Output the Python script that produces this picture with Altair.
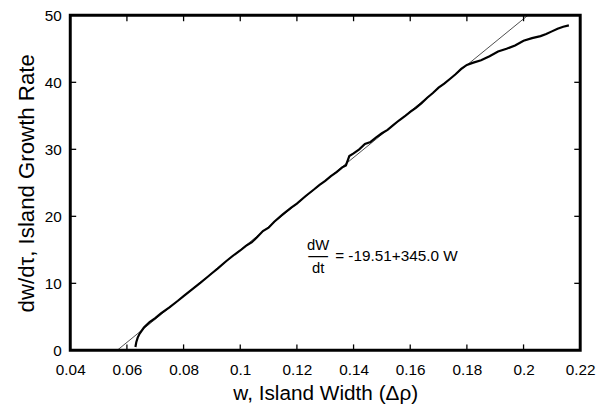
import altair as alt
import pandas as pd

# ---- data ----
w_vals = [0.0630, 0.0633, 0.0638, 0.0645, 0.0660, 0.0680, 0.0700, 0.0720, 0.0750, 0.0780,
          0.0800, 0.0830, 0.0860, 0.0880, 0.0900, 0.0920, 0.0950, 0.0980, 0.1000, 0.1020,
          0.1040, 0.1060, 0.1080, 0.1100, 0.1120, 0.1150, 0.1180, 0.1200, 0.1230, 0.1260,
          0.1280, 0.1300, 0.1320, 0.1340, 0.1360, 0.1373, 0.1385, 0.1400, 0.1420, 0.1440,
          0.1460, 0.1480, 0.1500, 0.1520, 0.1540, 0.1560, 0.1580, 0.1600, 0.1620, 0.1640,
          0.1660, 0.1680, 0.1700, 0.1720, 0.1740, 0.1760, 0.1780, 0.1800, 0.1820, 0.1850,
          0.1880, 0.1910, 0.1940, 0.1970, 0.2000, 0.2030, 0.2060, 0.2080, 0.2100, 0.2120,
          0.2140, 0.2160]
rate_vals = [0.5, 1.2, 1.9, 2.5, 3.4, 4.2, 4.8, 5.5, 6.4, 7.4,
             8.1, 9.1, 10.1, 10.8, 11.5, 12.2, 13.3, 14.3, 14.9, 15.6,
             16.1, 16.9, 17.8, 18.3, 19.2, 20.3, 21.3, 21.9, 23.0, 24.0,
             24.7, 25.3, 26.0, 26.6, 27.3, 27.6, 29.0, 29.4, 30.0, 30.8,
             31.1, 31.8, 32.4, 32.9, 33.6, 34.3, 34.9, 35.6, 36.2, 36.9,
             37.7, 38.4, 39.2, 39.8, 40.5, 41.2, 42.0, 42.6, 42.9, 43.3,
             43.9, 44.6, 45.0, 45.5, 46.2, 46.6, 46.9, 47.2, 47.6, 48.0,
             48.3, 48.5]

fit_w = [0.05655, 0.20154]
fit_rate = [0.0, 50.0]

x_ticks = [0.04, 0.06, 0.08, 0.10, 0.12, 0.14, 0.16, 0.18, 0.20, 0.22]
y_ticks = [0, 10, 20, 30, 40, 50]

ann_w = [0.1275]
ann_rate = [14.0]
eq_text = ["= -19.51+345.0 W"]
eq_w = [0.1335]

W, H = 516, 339
FONT = "Liberation Sans"
TICK_PX = 6

x0, x1 = x_ticks[0], x_ticks[-1]
y0, y1 = y_ticks[0], y_ticks[-1]
xs = alt.Scale(domain=[x0, x1], nice=False, zero=False)
ys = alt.Scale(domain=[y0, y1], nice=False, zero=False)
XF = alt.X("w:Q", scale=xs)
YF = alt.Y("rate:Q", scale=ys)

curve_df = pd.DataFrame({"w": w_vals, "rate": rate_vals, "i": list(range(len(w_vals)))})
fit_df = pd.DataFrame({"w": fit_w, "rate": fit_rate})

base_x = alt.X("w:Q", scale=xs, axis=alt.Axis(
    values=x_ticks, format="~g", title="w, Island Width (\u0394\u03c1)",
    ticks=False, domain=False, grid=False,
    labelFlush=False, labelOverlap=False,
    labelPadding=12, titleY=50, titleBaseline="alphabetic"))
base_y = alt.Y("rate:Q", scale=ys, axis=alt.Axis(
    values=y_ticks, format="~g", title="dw/d\u03c4, Island Growth Rate",
    ticks=False, domain=False, grid=False,
    labelFlush=False, labelOverlap=False,
    labelPadding=9, titleX=-37, titleY=H / 2, titleBaseline="alphabetic",
    titleAngle=270, titleAlign="center", titleFontSize=22.5))

fit = alt.Chart(fit_df).mark_line(color="black", strokeWidth=0.7).encode(x=base_x, y=base_y)
curve = alt.Chart(curve_df).mark_line(color="black", strokeWidth=2.2).encode(
    x=XF, y=YF, order="i:Q")

# inward tick marks on all four sides (short segments built from the tick lists)
dx = TICK_PX / W * (x1 - x0)
dy = TICK_PX / H * (y1 - y0)
tw, tr, tg = [], [], []
for t in x_ticks[1:-1]:
    tw += [t, t]; tr += [y0, y0 + dy]; tg += [f"b{t}"] * 2
    tw += [t, t]; tr += [y1, y1 - dy]; tg += [f"t{t}"] * 2
for r in y_ticks[1:-1]:
    tw += [x0, x0 + dx]; tr += [r, r]; tg += [f"l{r}"] * 2
    tw += [x1, x1 - dx]; tr += [r, r]; tg += [f"r{r}"] * 2
ticks_df = pd.DataFrame({"w": tw, "rate": tr, "g": tg})
ticks = alt.Chart(ticks_df).mark_line(color="black", strokeWidth=1.3).encode(
    x=XF, y=YF, detail="g:N")

ann_df = pd.DataFrame({"w": ann_w, "rate": ann_rate})
num = alt.Chart(ann_df).mark_text(text="dW", font=FONT, fontSize=15, dy=-12,
                                  baseline="middle", color="black").encode(x=XF, y=YF)
den = alt.Chart(ann_df).mark_text(text="dt", font=FONT, fontSize=15, dy=12,
                                  baseline="middle", color="black").encode(x=XF, y=YF)
bar = alt.Chart(ann_df).mark_text(text="\u2014", font=FONT, fontSize=20,
                                  baseline="middle", color="black").encode(x=XF, y=YF)
eq_df = pd.DataFrame({"w": eq_w, "rate": ann_rate, "label": eq_text})
eq = alt.Chart(eq_df).mark_text(font=FONT, fontSize=15.5, align="left",
                                baseline="middle", color="black").encode(
    x=XF, y=YF, text="label:N")

chart = alt.layer(fit, curve, ticks, num, den, bar, eq).properties(
    width=W, height=H,
    autosize=alt.AutoSizeParams(type="none"),
    padding={"left": 63, "top": 5, "right": 18, "bottom": 60},
    background="white",
).configure_view(stroke="black", strokeWidth=3).configure_axis(
    labelFont=FONT, labelFontSize=15.5, labelColor="black",
    titleFont=FONT, titleFontSize=21, titleFontWeight="normal", titleColor="black")

chart.save("out.html", embed_options={"renderer": "svg", "actions": False})
